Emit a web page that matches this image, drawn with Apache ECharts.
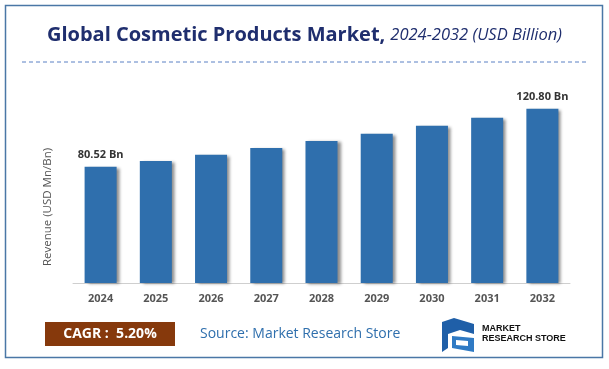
<!DOCTYPE html>
<html><head><meta charset="utf-8">
<script src="https://cdn.jsdelivr.net/npm/echarts@6/dist/echarts.min.js"></script>
<style>html,body{margin:0;padding:0;background:#fff}#c{width:609px;height:369px}</style>
</head><body><div id="c"></div>
<script>
const years = ['2024','2025','2026','2027','2028','2029','2030','2031','2032'];
const revenue = [80.52, 84.6, 88.9, 93.6, 98.4, 103.5, 109.0, 114.6, 120.80];
const labelled = {0: '80.52 Bn', 8: '120.80 Bn'};
const yAxisTitle = 'Revenue (USD Mn/Bn)';
const cagr = 'CAGR :  5.20%';
const source = 'Source: Market Research Store';

const chart = echarts.init(document.getElementById('c'), null, {renderer: 'canvas'});
const F = '"Open Sans", "Noto Sans", sans-serif';
chart.setOption({
  animation: false,
  backgroundColor: '#fff',
  title: {
    text: '{b|Global Cosmetic Products Market,} {i|2024-2032 (USD Billion)}',
    left: 'center', top: 20,
    textStyle: {
      fontWeight: 'normal',
      rich: {
        b: {fontFamily: F, fontWeight: 'bold', fontSize: 20, color: '#1F2E6E'},
        i: {fontFamily: F, fontStyle: 'italic', fontWeight: 'normal', fontSize: 16.5, color: '#1F2E6E'}
      }
    }
  },
  grid: {left: 73, right: 39, top: 81, bottom: 86},
  xAxis: {
    type: 'category', data: years,
    axisLine: {lineStyle: {color: '#cfcfcf', width: 1}},
    axisTick: {show: false},
    axisLabel: {fontFamily: F, fontWeight: 'bold', fontSize: 11, color: '#555', margin: 10}
  },
  yAxis: {
    type: 'value', min: 0, max: 140,
    axisLine: {show: false}, axisTick: {show: false},
    axisLabel: {show: false}, splitLine: {show: false}
  },
  series: [{
    type: 'bar', data: revenue, barCategoryGap: '42%',
    itemStyle: {color: '#2F6FAD', shadowColor: 'rgba(0,0,0,0.45)', shadowBlur: 3, shadowOffsetX: 3, shadowOffsetY: 1},
    label: {
      show: true, position: 'top', distance: 6,
      fontFamily: F, fontWeight: 'bold', fontSize: 11, color: '#333',
      formatter: p => labelled[p.dataIndex] || ''
    }
  }],
  graphic: [
    {type: 'rect', shape: {x: 5.5, y: 5.5, width: 597, height: 352}, style: {fill: 'none', stroke: '#4A77A6', lineWidth: 1.5}, silent: true},
    {type: 'line', shape: {x1: 22, y1: 62, x2: 588, y2: 62}, style: {stroke: '#5B80C4', lineWidth: 1, lineDash: [4, 3]}},
    {type: 'text', x: 48, y: 207, rotation: Math.PI / 2, style: {text: yAxisTitle, fontFamily: F, fontSize: 11.5, fill: '#555', align: 'center', verticalAlign: 'middle'}},
    {type: 'rect', shape: {x: 45, y: 322, width: 130, height: 24}, style: {fill: '#86390C'}},
    {type: 'text', x: 110, y: 334, style: {text: cagr, fontFamily: F, fontWeight: 'bold', fontSize: 14, fill: '#fff', align: 'center', verticalAlign: 'middle'}},
    {type: 'text', x: 200, y: 334, style: {text: source, fontFamily: F, fontSize: 14, fill: '#2F6FAD', align: 'left', verticalAlign: 'middle'}},
    {type: 'group', x: 440, y: 318, children: [
      {type: 'polygon', shape: {points: [[2,4],[14,0],[34,6],[34,16],[20,12],[8,16],[8,30],[2,34]]}, style: {fill: '#1F5FA8'}},
      {type: 'polygon', shape: {points: [[12,18],[34,20],[34,34],[12,30]]}, style: {fill: '#2F7AC4'}},
      {type: 'polygon', shape: {points: [[16,22],[28,23],[28,28],[16,27]]}, style: {fill: '#fff'}}
    ]},
    {type: 'text', x: 482, y: 329, style: {text: 'MARKET', fontFamily: '"Liberation Sans", sans-serif', fontWeight: 'bold', fontSize: 9, fill: '#111', verticalAlign: 'middle'}},
    {type: 'text', x: 482, y: 339, style: {text: 'RESEARCH STORE', fontFamily: '"Liberation Sans", sans-serif', fontWeight: 'bold', fontSize: 9, fill: '#111', verticalAlign: 'middle'}}
  ]
});
</script></body></html>
